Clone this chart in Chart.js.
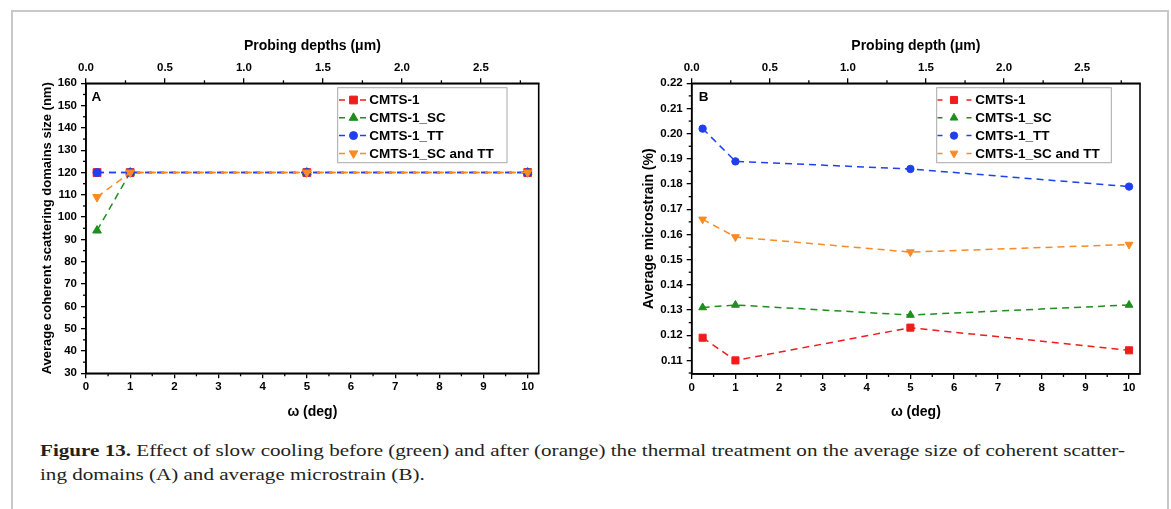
<!DOCTYPE html>
<html><head><meta charset="utf-8">
<script src="https://cdn.jsdelivr.net/npm/chart.js@4.4.0/dist/chart.umd.min.js"></script>
<style>
html,body{margin:0;padding:0;background:#fff;width:1171px;height:509px;overflow:hidden;}
#frame{position:absolute;left:11px;top:10px;width:1154px;height:540px;border:2px solid #c8c8c8;border-bottom:none;}
#wa{position:absolute;left:0;top:0;width:585px;height:430px;}
#wb{position:absolute;left:585px;top:0;width:586px;height:430px;}
.cap{position:absolute;left:40px;font-family:"Liberation Serif","Times New Roman",serif;font-size:16.5px;line-height:16px;color:#231f20;white-space:nowrap;transform-origin:0 0;}
</style></head><body>
<div id="frame"></div>
<div id="wa"><canvas id="ca"></canvas></div>
<div id="wb"><canvas id="cb"></canvas></div>
<div class="cap" id="l1" style="top:443.3px"><b>Figure 13.</b> Effect of slow cooling before (green) and after (orange) the thermal treatment on the average size of coherent scatter-</div>
<div class="cap" id="l2" style="top:467.3px">ing domains (A) and average microstrain (B).</div>
<script>
// ---- data ----
const omega = [0.25, 1, 5, 10];
const seriesNames = ['CMTS-1', 'CMTS-1_SC', 'CMTS-1_TT', 'CMTS-1_SC and TT'];
const sizeCMTS1 = [120, 120, 120, 120];
const sizeSC = [94, 120, 120, 120];
const sizeTT = [120, 120, 120, 120];
const sizeSCTT = [109, 120, 120, 120];
const strainCMTS1 = [0.119, 0.110, 0.123, 0.114];
const strainSC = [0.131, 0.132, 0.128, 0.132];
const strainTT = [0.202, 0.189, 0.186, 0.179];
const strainSCTT = [0.166, 0.159, 0.153, 0.156];
const omegaTicks = [0, 1, 2, 3, 4, 5, 6, 7, 8, 9, 10];
const depthTicks = [0.0, 0.5, 1.0, 1.5, 2.0, 2.5];
const sizeTicks = [30, 40, 50, 60, 70, 80, 90, 100, 110, 120, 130, 140, 150, 160];
const strainTicks = [0.11, 0.12, 0.13, 0.14, 0.15, 0.16, 0.17, 0.18, 0.19, 0.20, 0.21, 0.22];

// ---- styles ----
const colors = ['#f01c1c', '#1e8e1e', '#2040f0', '#fb8a22'];
const styles = ['rect', 'triangle', 'circle', 'triangle'];
const rotations = [0, 0, 0, 180];
const drawOrder = [4, 3, 2, 1];
const FONT = '"Liberation Sans", Arial, sans-serif';
Chart.defaults.font.family = FONT;
Chart.defaults.color = '#000';

function ds(values, i, radii) {
  return {
    label: seriesNames[i],
    data: omega.map((x, k) => ({x: x, y: values[k]})),
    order: drawOrder[i],
    borderColor: colors[i], backgroundColor: colors[i],
    pointBackgroundColor: colors[i], pointBorderColor: colors[i],
    borderWidth: 1.5, borderDash: [7, 5],
    pointStyle: styles[i], pointRotation: rotations[i],
    pointRadius: radii[i], pointBorderWidth: 1, tension: 0
  };
}

const decoPlugin = {
  id: 'deco',
  afterDraw(chart, args, o) {
    const ctx = chart.ctx, a = chart.chartArea;
    ctx.save();
    // minor ticks
    ctx.strokeStyle = '#000'; ctx.lineWidth = 1.3;
    for (const id of Object.keys(chart.scales)) {
      const s = chart.scales[id];
      const vals = s.ticks.map(t => t.value);
      const step = vals[1] - vals[0];
      const pos = s.options.position;
      for (let v = vals[0] - step / 2; v <= s.max + 1e-9; v += step) {
        if (v < s.min - 1e-9) continue;
        const p = s.getPixelForValue(v);
        ctx.beginPath();
        if (pos === 'left') { ctx.moveTo(a.left, p); ctx.lineTo(a.left - 3, p); }
        else if (pos === 'bottom') { ctx.moveTo(p, a.bottom); ctx.lineTo(p, a.bottom + 3); }
        else if (pos === 'top') { ctx.moveTo(p, a.top); ctx.lineTo(p, a.top - 3); }
        ctx.stroke();
      }
    }
    // box
    ctx.lineWidth = 1.6;
    ctx.strokeRect(a.left, a.top, a.right - a.left, a.bottom - a.top);
    // panel letter
    ctx.fillStyle = '#000';
    ctx.font = 'bold 13.5px ' + FONT;
    ctx.textBaseline = 'middle'; ctx.textAlign = 'left';
    ctx.fillText(o.letter, a.left + o.letterDx, 97);
    // legend
    const L = o.legend;
    ctx.strokeStyle = '#a8a8a8'; ctx.lineWidth = 1;
    ctx.strokeRect(L.x, L.y, L.w, L.h);
    const sets = chart.data.datasets;
    sets.forEach((d, i) => {
      const y = L.y0 + i * L.dy;
      ctx.strokeStyle = d.borderColor; ctx.lineWidth = 1.5;
      ctx.beginPath();
      ctx.moveTo(L.sx0, y); ctx.lineTo(L.sx0 + L.dash, y);
      ctx.moveTo(L.sx1 - L.dash, y); ctx.lineTo(L.sx1, y);
      ctx.stroke();
      ctx.fillStyle = d.borderColor; ctx.strokeStyle = d.borderColor; ctx.lineWidth = 1;
      Chart.helpers.drawPoint(ctx, {pointStyle: d.pointStyle, rotation: d.pointRotation, radius: d.pointRadius * L.ms, borderWidth: 1}, L.mx, y);
      ctx.fillStyle = '#000';
      ctx.font = 'bold 13.5px ' + FONT;
      ctx.textBaseline = 'middle'; ctx.textAlign = 'left';
      ctx.fillText(d.label, L.tx, y + 0.5);
    });
    ctx.restore();
  }
};

function fixed(arr) { return s => { s.ticks = arr.map(v => ({value: v})); }; }

function makeChart(id, cfg) {
  return new Chart(document.getElementById(id), {
    type: 'line',
    data: {datasets: cfg.datasets},
    plugins: [decoPlugin],
    options: {
      responsive: true, maintainAspectRatio: false, animation: false, events: [],
      layout: {padding: {left: 0, top: 0, right: cfg.padRight, bottom: 0}},
      plugins: {legend: {display: false}, tooltip: {enabled: false}, deco: cfg.deco},
      scales: {
        x: {
          type: 'linear', position: 'bottom', min: 0, max: 10.25,
          afterBuildTicks: fixed(omegaTicks),
          afterFit: s => { s.height = cfg.xH; },
          ticks: {autoSkip: false, maxRotation: 0, padding: 2, font: {size: 11.5, weight: 'bold'}, callback: v => String(v)},
          grid: {drawOnChartArea: false, tickLength: 5, color: '#000', lineWidth: 1.3},
          border: {color: '#000', width: 1.6},
          title: {display: true, text: 'ω (deg)', font: {size: 14, weight: 'bold'}, padding: {top: 0, bottom: 9.6}}
        },
        x2: {
          type: 'linear', position: 'top', min: 0, max: cfg.depthMax,
          afterBuildTicks: fixed(depthTicks),
          afterFit: s => { s.height = cfg.x2H; },
          ticks: {autoSkip: false, maxRotation: 0, padding: 4, font: {size: 11.5, weight: 'bold'}, callback: v => v.toFixed(1)},
          grid: {drawOnChartArea: false, tickLength: 5, color: '#000', lineWidth: 1.3},
          border: {color: '#000', width: 1.6},
          title: {display: true, text: cfg.topTitle, font: {size: 14, weight: 'bold'}, padding: {top: 38.1, bottom: 0}}
        },
        y: {
          type: 'linear', position: 'left', min: cfg.yMin, max: cfg.yMax,
          afterBuildTicks: fixed(cfg.yTicks),
          afterFit: s => { s.width = cfg.yW; },
          ticks: {autoSkip: false, padding: 4, font: {size: 11.5, weight: 'bold'}, callback: cfg.yFmt},
          grid: {drawOnChartArea: false, tickLength: 5, color: '#000', lineWidth: 1.3},
          border: {color: '#000', width: 1.6},
          title: {display: true, text: cfg.yTitle, font: {size: cfg.yTitleSize, weight: 'bold'}, padding: {top: cfg.yTitlePad, bottom: 0}}
        }
      }
    }
  });
}

const radiiA = [5.5, 5, 4, 5];
const radiiB = [5, 4.5, 3.7, 4.5];

makeChart('ca', {
  datasets: [ds(sizeCMTS1, 0, radiiA), ds(sizeSC, 1, radiiA), ds(sizeTT, 2, radiiA), ds(sizeSCTT, 3, radiiA)],
  padRight: 46.3, xH: 56.7, x2H: 83.3, yW: 86, depthMax: 2.866,
  yMin: 30, yMax: 160, yTicks: sizeTicks, yFmt: v => String(v),
  topTitle: 'Probing depths (μm)',
  yTitle: 'Average coherent scattering domains size (nm)', yTitleSize: 13, yTitlePad: 39.7,
  deco: {letter: 'A', letterDx: 5.5,
    legend: {x: 337.7, y: 87.7, w: 169.3, h: 75, y0: 100, dy: 17.8, sx0: 339, sx1: 366, dash: 6, mx: 353.5, tx: 369.3, ms: 1}}
});

makeChart('cb', {
  datasets: [ds(strainCMTS1, 0, radiiB), ds(strainSC, 1, radiiB), ds(strainTT, 2, radiiB), ds(strainSCTT, 3, radiiB)],
  padRight: 31, xH: 56, x2H: 83.3, yW: 106.7, depthMax: 2.87,
  yMin: 0.1046, yMax: 0.22, yTicks: strainTicks, yFmt: v => v.toFixed(2),
  topTitle: 'Probing depth (μm)',
  yTitle: 'Average microstrain (%)', yTitleSize: 14, yTitlePad: 55.6,
  deco: {letter: 'B', letterDx: 7,
    legend: {x: 351.7, y: 87.7, w: 174.6, h: 75, y0: 100, dy: 17.8, sx0: 352.5, sx1: 386.5, dash: 5, mx: 369, tx: 390.3, ms: 1}}
});

// caption fitting: stretch horizontally to the reference line width
(function () {
  const l1 = document.getElementById('l1'), l2 = document.getElementById('l2');
  const w = l1.getBoundingClientRect().width;
  const k = 1085 / w;
  l1.style.transform = 'scaleX(' + k + ')';
  l2.style.transform = 'scaleX(' + k + ')';
})();
</script>
</body></html>
